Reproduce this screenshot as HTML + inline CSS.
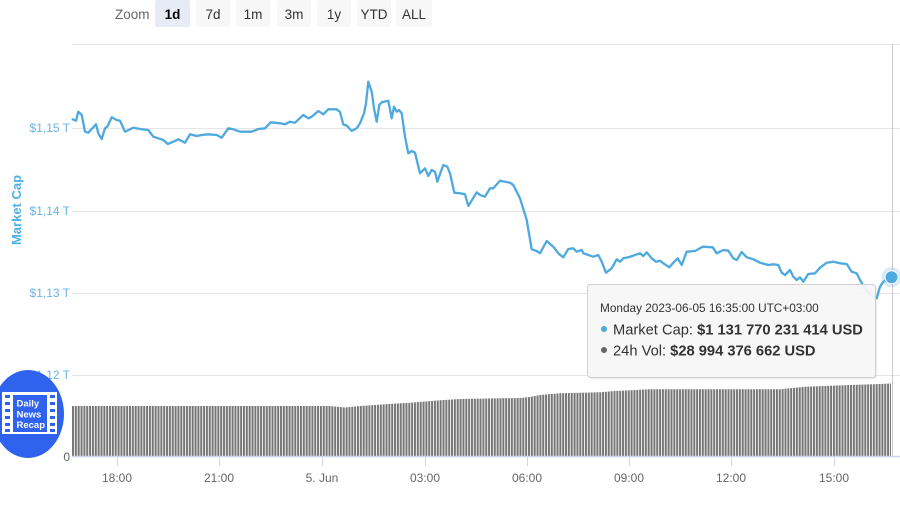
<!DOCTYPE html>
<html><head><meta charset="utf-8">
<style>
html,body{margin:0;padding:0;background:#fff;}
body{width:900px;height:506px;overflow:hidden;position:relative;font-family:"Liberation Sans",sans-serif;}
svg{position:absolute;left:0;top:0;}
</style></head>
<body>
<svg width="900" height="506" viewBox="0 0 900 506" xmlns="http://www.w3.org/2000/svg" font-family="Liberation Sans, sans-serif">
<defs>
<pattern id="bars" patternUnits="userSpaceOnUse" x="72" y="0" width="2.85" height="506">
<rect x="0" y="0" width="2.0" height="506" fill="#767676"/>
</pattern>
</defs>
<!-- zoom buttons -->
<text x="115" y="19" font-size="13.5" fill="#666">Zoom</text>
<rect x="155" y="0" width="35" height="27" rx="2" fill="#e6ebf5"/>
<rect x="196" y="0" width="34" height="27" rx="2" fill="#f7f7f7"/>
<rect x="236" y="0" width="34" height="27" rx="2" fill="#f7f7f7"/>
<rect x="277" y="0" width="34" height="27" rx="2" fill="#f7f7f7"/>
<rect x="317" y="0" width="34" height="27" rx="2" fill="#f7f7f7"/>
<rect x="357" y="0" width="34" height="27" rx="2" fill="#f7f7f7"/>
<rect x="396" y="0" width="36" height="27" rx="2" fill="#f7f7f7"/>
<g font-size="13.5" fill="#333" text-anchor="middle">
<text x="172.5" y="19" font-weight="bold" fill="#000">1d</text>
<text x="213" y="19">7d</text>
<text x="253" y="19">1m</text>
<text x="294" y="19">3m</text>
<text x="334" y="19">1y</text>
<text x="374" y="19">YTD</text>
<text x="414" y="19">ALL</text>
</g>
<!-- grid -->
<g stroke="#e6e6e6" stroke-width="1">
<line x1="72" y1="44.5" x2="900" y2="44.5"/>
<line x1="72" y1="128.5" x2="900" y2="128.5"/>
<line x1="72" y1="211.5" x2="900" y2="211.5"/>
<line x1="72" y1="293.5" x2="900" y2="293.5"/>
<line x1="72" y1="375.5" x2="900" y2="375.5"/>
</g>
<!-- y labels -->
<g font-size="12" fill="#69b3e3" text-anchor="end">
<text x="70" y="132">$1,15 T</text>
<text x="70" y="215">$1,14 T</text>
<text x="70" y="297">$1,13 T</text>
<text x="70" y="379">$1,12 T</text>
</g>
<text x="70" y="461" font-size="12" fill="#666" text-anchor="end">0</text>
<text transform="translate(21,210) rotate(-90)" font-size="13" font-weight="bold" fill="#4fb0e2" text-anchor="middle">Market Cap</text>
<!-- volume -->
<polygon fill="url(#bars)" points="72,406 330,406 345,407.5 360,406 385,404.3 410,402.7 440,400.3 460,399 520,398 530,397 540,395 560,393.3 600,392.3 615,391 650,389.3 780,389.3 790,388.3 805,386.7 850,385 880,384 891,383.5 891,456 72,456"/>
<!-- x axis -->
<line x1="72" y1="456.5" x2="900" y2="456.5" stroke="#ccd6eb" stroke-width="1.5"/>
<g stroke="#ccd6eb" stroke-width="1">
<line x1="117.5" y1="457" x2="117.5" y2="466"/>
<line x1="219.5" y1="457" x2="219.5" y2="466"/>
<line x1="322.5" y1="457" x2="322.5" y2="466"/>
<line x1="425.5" y1="457" x2="425.5" y2="466"/>
<line x1="527.5" y1="457" x2="527.5" y2="466"/>
<line x1="629.5" y1="457" x2="629.5" y2="466"/>
<line x1="731.5" y1="457" x2="731.5" y2="466"/>
<line x1="834.5" y1="457" x2="834.5" y2="466"/>
</g>
<g font-size="12" fill="#666" text-anchor="middle">
<text x="117" y="482">18:00</text>
<text x="219" y="482">21:00</text>
<text x="322" y="482">5. Jun</text>
<text x="425" y="482">03:00</text>
<text x="527" y="482">06:00</text>
<text x="629" y="482">09:00</text>
<text x="731" y="482">12:00</text>
<text x="834" y="482">15:00</text>
</g>
<!-- crosshair -->
<line x1="892.5" y1="44" x2="892.5" y2="456" stroke="#cccccc" stroke-width="1"/>
<!-- line -->
<polyline fill="none" stroke="#4ea9df" stroke-width="2.3" stroke-linejoin="round" stroke-linecap="round" points="72.7,119.3 76,120.7 78.3,111.7 81.7,115 85,131.7 88.3,132.7 96,124.3 98.3,133.3 101.7,139 105,128.3 107.3,126.7 111.7,117.3 116.7,120 120,120.7 125,131.7 133.3,127.7 141.7,129.3 148.3,130 153.3,136.7 158.3,138.3 163.3,140 167.7,144 173.3,141.7 178.3,139.3 185,142.7 190,134.3 196.7,136 201.7,135 208.3,134.3 216.7,135 221.7,137.7 228.3,128.3 233.3,129.3 240,131.7 251.7,131.7 258.3,129 265,128.3 270.7,122.3 280,123.3 285,124.3 290,121.7 295,122.7 303.3,115 308.3,118.3 311.7,116.7 318.3,111 323.3,114.3 328.3,109.3 336.7,109.3 340,112 343.3,124.5 346.7,125.5 351.7,131 356.7,128.3 360,123.3 364,113.3 366,103.3 368.3,81.7 371.7,91.7 374,108.3 376.7,121.7 379.3,105 381.7,102.3 388.3,100.7 391.7,118.3 394,106.7 396.7,111.7 399,110 401.7,113.3 405,136.7 408.3,153.3 411.7,151 415,152.7 420,173.3 425,168.3 428.3,176 431.7,170 435,171.7 437.3,181.7 443.3,165 447.3,166.7 450,173.3 454.3,192.7 460,193.3 465,194.3 468.3,206 476.7,192.3 480,195 485,196.7 490,188.3 493.3,188.3 500,180.7 510,182.7 513.3,185 520,198.3 526.7,220 531.7,249.3 536.7,251 540,253.3 546.7,241 553.3,246.7 558.3,253.3 563.3,257.3 568.3,249 573.3,248.3 576.7,251.7 581.7,250 583.3,253.3 588.3,255 593.3,256.7 598.3,255 601.7,261.7 606,272.7 611.7,268.3 616.7,259.3 620,261.7 623.3,258.3 628.3,257.3 635,255 640,253.3 643.3,256 646.7,252.3 651.7,258.3 656,261.7 660,260.7 663.3,263.3 669.3,267.3 673.3,262.7 677.7,258.3 681.7,265 686.7,251.7 695,251 702.7,246.7 712.7,247.3 716.7,253.3 723.3,250 728.3,250.7 733.3,258.3 736.7,260 741.7,252 746.7,257.3 753.3,259.3 760,262.7 768.3,265 773.3,264.3 778.3,265 781.7,272.7 785,275 790,270 793.3,276.7 796.7,280 800,277.3 803.3,281.7 808.3,274 815,273.3 820,267.7 826.7,262.7 833.3,261.7 840,263.3 846.7,264 851.7,271.7 856.7,273.3 860,280 866,290 872,296 876.7,298.3 880,286.7 883.3,281.7 886.7,280 891.5,277.3"/>
<circle cx="891.5" cy="277.3" r="10" fill="#7cb5ec" fill-opacity="0.3"/>
<circle cx="891.5" cy="277.3" r="6.5" fill="#4ea9df" stroke="#fff" stroke-width="1"/>
<!-- tooltip -->
<rect x="589.5" y="286.5" width="288" height="93" rx="3" fill="#000" fill-opacity="0.05"/>
<rect x="587.5" y="284.5" width="288" height="93" rx="3" fill="#f7f7f7" fill-opacity="0.92" stroke="#cfcfcf" stroke-width="1"/>
<text x="600" y="312" font-size="11.8" fill="#333">Monday 2023-06-05 16:35:00 UTC+03:00</text>
<circle cx="604" cy="329" r="3" fill="#4ea9df"/>
<text x="613" y="334.5" font-size="14.7" fill="#333">Market Cap: <tspan font-weight="bold">$1 131 770 231 414 USD</tspan></text>
<circle cx="604" cy="350" r="3" fill="#666"/>
<text x="613" y="355.5" font-size="14.7" fill="#333">24h Vol: <tspan font-weight="bold">$28 994 376 662 USD</tspan></text>
<!-- logo -->
<ellipse cx="28" cy="414" rx="36" ry="44" fill="#2f63ee"/>
<rect x="2" y="392" width="55" height="42" fill="#fff"/>
<rect x="13" y="395" width="34" height="37" fill="#2f63ee"/>
<g fill="#2f63ee">
<rect x="5" y="395" width="5" height="3"/>
<rect x="5" y="402" width="5" height="3"/>
<rect x="5" y="409" width="5" height="3"/>
<rect x="5" y="416" width="5" height="3"/>
<rect x="5" y="423" width="5" height="3"/>
<rect x="5" y="429" width="5" height="3"/>
<rect x="50" y="395" width="5" height="3"/>
<rect x="50" y="402" width="5" height="3"/>
<rect x="50" y="409" width="5" height="3"/>
<rect x="50" y="416" width="5" height="3"/>
<rect x="50" y="423" width="5" height="3"/>
<rect x="50" y="429" width="5" height="3"/>
</g>
<g font-size="9.5" font-weight="bold" fill="#fff">
<text x="16.5" y="406.5">Daily</text>
<text x="16.5" y="417.5">News</text>
<text x="16.5" y="428">Recap</text>
</g>
</svg>
</body></html>
